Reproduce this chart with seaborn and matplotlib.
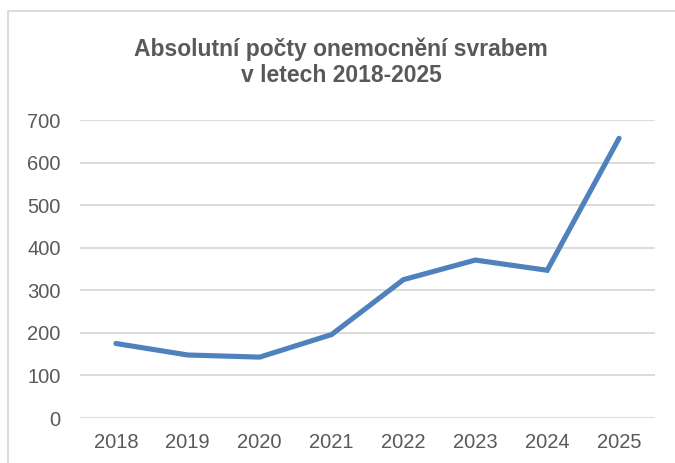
import matplotlib
matplotlib.use("Agg")
import matplotlib.pyplot as plt
import seaborn as sns
import pandas as pd
from matplotlib.patches import Rectangle

years = ["2018", "2019", "2020", "2021", "2022", "2023", "2024", "2025"]
cases = [175, 148, 143, 196, 325, 371, 347, 657]
yticks = [0, 100, 200, 300, 400, 500, 600, 700]
title = "Absolutní počty onemocnění svrabem\nv letech 2018-2025"

sns.set_theme(style="white")
plt.rcParams["font.family"] = ["Liberation Sans", "DejaVu Sans"]

df = pd.DataFrame({"year": years, "cases": cases})

fig = plt.figure(figsize=(6.75, 4.63), dpi=100)
ax = fig.add_axes([80/675, 1-418/463, (655-80)/675, (418-120)/463])

sns.lineplot(data=df, x="year", y="cases", ax=ax, color="#4F81BD",
             linewidth=3.7, solid_capstyle="round", solid_joinstyle="miter")

ax.set_ylim(0, 700)
ax.set_xlim(-0.5, len(years) - 0.5)
ax.set_yticks(yticks)
ax.set_yticklabels([str(v) for v in yticks])
ax.yaxis.grid(True, color="#D9D9D9", linewidth=1.3)
ax.set_axisbelow(True)
for s in ax.spines.values():
    s.set_visible(False)
ax.tick_params(axis="both", length=0, labelsize=14.5, colors="#595959")
ax.tick_params(axis="y", pad=14)
ax.tick_params(axis="x", pad=11)
ax.set_xlabel("")
ax.set_ylabel("")

fig.text(341/675, 1 - 62/463, title, ha="center", va="center", fontsize=16.5,
         fontweight="bold", color="#595959", linespacing=1.15)

fig.patches.append(Rectangle((8/675, -0.05), 1.0, 1 - 11/463 + 0.05,
                             transform=fig.transFigure, fill=False,
                             edgecolor="#D9D9D9", linewidth=1.3))

fig.savefig("out.png", dpi=100)
